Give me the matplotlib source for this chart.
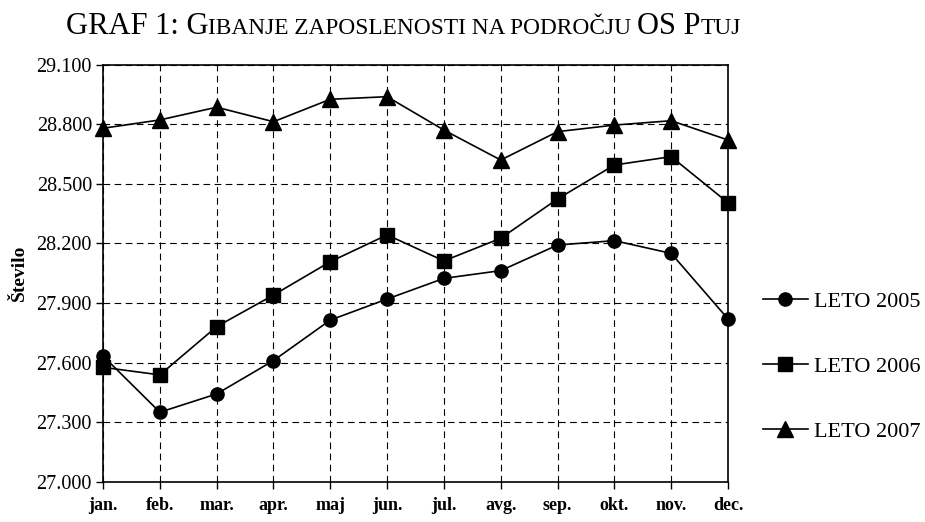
import matplotlib
matplotlib.use("Agg")
import matplotlib.pyplot as plt
from matplotlib.offsetbox import TextArea, HPacker, AnnotationBbox

# podatki (odčitani z grafa)
meseci = ["jan.", "feb.", "mar.", "apr.", "maj", "jun.", "jul.", "avg.", "sep.", "okt.", "nov.", "dec."]
leto_2005 = [27633, 27350, 27442, 27610, 27814, 27920, 28024, 28063, 28192, 28214, 28150, 27820]
leto_2006 = [27576, 27538, 27781, 27940, 28108, 28243, 28112, 28226, 28424, 28595, 28637, 28405]
leto_2007 = [28780, 28822, 28886, 28813, 28926, 28939, 28771, 28620, 28763, 28796, 28818, 28721]
oznake = ["LETO 2005", "LETO 2006", "LETO 2007"]
y_ticks = [27000, 27300, 27600, 27900, 28200, 28500, 28800, 29100]

plt.rcParams['font.family'] = ['Liberation Serif', 'DejaVu Serif']

fig = plt.figure(figsize=(9.25, 5.22), dpi=100)
ax = fig.add_axes([0.1114, 0.0772, 0.787 - 0.1114, 0.876 - 0.0772])

x = list(range(len(meseci)))
ax.plot(x, leto_2005, color='black', lw=1.2, marker='o', ms=9.5, label=oznake[0], clip_on=False, zorder=3)
ax.plot(x, leto_2006, color='black', lw=1.2, marker='s', ms=9.5, label=oznake[1], clip_on=False, zorder=3)
ax.plot(x, leto_2007, color='black', lw=1.2, marker='^', ms=11, label=oznake[2], clip_on=False, zorder=3)

ax.set_xlim(0, len(meseci) - 1)
ax.set_ylim(y_ticks[0], y_ticks[-1])
ax.set_xticks(x)
ax.set_xticklabels(meseci, fontsize=13, fontweight='bold')
ax.set_yticks(y_ticks)
ax.set_yticklabels([f"{v // 1000}.{v % 1000:03d}" for v in y_ticks], fontsize=14.5)
ax.tick_params(axis='both', direction='out', length=5, width=1, color='black')
ax.tick_params(axis='x', pad=6)
ax.tick_params(axis='y', pad=3)

ax.grid(True, color='black', linestyle=(0, (6, 4)), linewidth=0.8)
ax.set_axisbelow(True)
for s in ax.spines.values():
    s.set_linewidth(1.2)
    s.set_color('black')

ax.set_ylabel("Število", fontsize=14, fontweight='bold', labelpad=6)

# legenda
fig.legend(loc='center left', bbox_to_anchor=(0.825, 0.297), frameon=False,
           fontsize=16, labelspacing=2.0, handlelength=2.0, handletextpad=0.3,
           borderpad=0, borderaxespad=0)

# naslov v malih velikih črkah
deli = [("GRAF 1: G", 22), ("IBANJE ZAPOSLENOSTI NA PODROČJU ", 16.8), ("OS P", 22), ("TUJ", 16.8)]
otroci = [TextArea(t, textprops=dict(fontsize=s, color='black')) for t, s in deli]
box = HPacker(children=otroci, align="baseline", pad=0, sep=0)
ab = AnnotationBbox(box, (0.436, 0.950), xycoords='figure fraction', frameon=False,
                    box_alignment=(0.5, 0.5))
fig.add_artist(ab)

fig.savefig("out.png", dpi=100)
